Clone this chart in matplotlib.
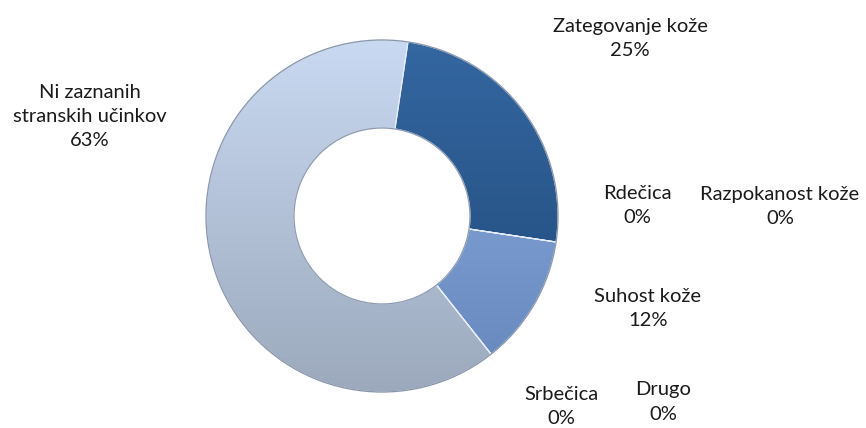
import matplotlib
matplotlib.use("Agg")
import matplotlib.pyplot as plt
import numpy as np
from matplotlib.colors import LinearSegmentedColormap

categories = ["Zategovanje kože", "Rdečica", "Razpokanost kože", "Suhost kože",
              "Drugo", "Srbečica", "Ni zaznanih\nstranskih učinkov"]
values = [25, 0, 0, 12, 0, 0, 63]
pct_labels = ["25%", "0%", "0%", "12%", "0%", "0%", "63%"]

top_colors = ["#3466a0", "#4f7fc0", "#4f7fc0", "#8db0e2", "#c8d8f0", "#c8d8f0", "#c9d9f1"]
bot_colors = ["#1f4978", "#3a66a0", "#3a66a0", "#6586bb", "#9eabbf", "#9eabbf", "#9ca9bd"]

plt.rcParams['font.family'] = ['Lato', 'DejaVu Sans']

fig = plt.figure(figsize=(8.66, 4.28), dpi=100)
ax = fig.add_axes([0, 0, 1, 1])

cx, cy, R = 382, 212, 176
wedges, _ = ax.pie(values, radius=R, center=(cx, cy), startangle=81.5,
                   counterclock=False, frame=True,
                   wedgeprops=dict(width=R * 0.5, edgecolor="#e8eef8", linewidth=0.8))
ax.set_xlim(0, 866)
ax.set_ylim(0, 428)
ax.set_axis_off()

for w, v, c1, c2 in zip(wedges, values, top_colors, bot_colors):
    if v == 0:
        continue
    cmap = LinearSegmentedColormap.from_list("g", [c2, c1])
    grad = np.linspace(0, 1, 256).reshape(-1, 1)
    w.set_facecolor("none")
    im = ax.imshow(grad, cmap=cmap, origin="lower", aspect="auto",
                   extent=(cx - R, cx + R, cy - R, cy + R), zorder=0.5)
    im.set_clip_path(w)
    w.set_zorder(1)

ax.set_xlim(0, 866)
ax.set_ylim(0, 428)

circ = plt.Circle((cx, cy), R, fill=False, edgecolor="#8a96aa", linewidth=0.9, zorder=2)
ax.add_patch(circ)
inner = plt.Circle((cx, cy), R * 0.5, fill=False, edgecolor="#8f9bb0", linewidth=0.9, zorder=2)
ax.add_patch(inner)

label_pos = [(630, 428 - 38), (637, 428 - 205), (780, 428 - 206), (648, 428 - 309),
             (663, 428 - 402), (561, 428 - 406), (90, 428 - 116)]
for cat, pct, (x, y) in zip(categories, pct_labels, label_pos):
    ax.text(x, y, f"{cat}\n{pct}", ha="center", va="center", fontsize=14.5,
            color="#1a1a1a", linespacing=1.5)

fig.savefig("out.png", dpi=100)
